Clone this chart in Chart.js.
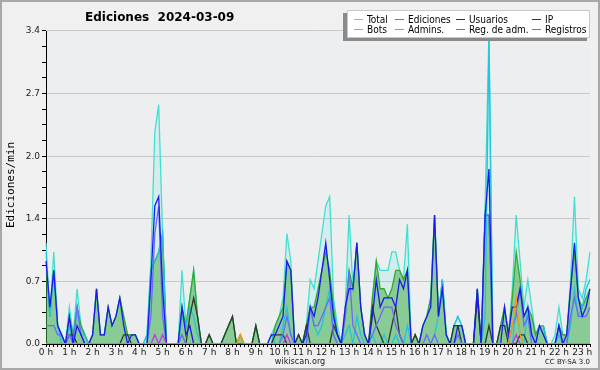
<!DOCTYPE html>
<html>
<head>
<meta charset="utf-8">
<script src="https://cdn.jsdelivr.net/npm/chart.js@4/dist/chart.umd.min.js"></script>
<style>
  html, body { margin: 0; padding: 0; background: #f0f0f0; }
  #wrap { width: 600px; height: 370px; }
</style>
</head>
<body>
<div id="wrap"><canvas id="chart" width="600" height="370"></canvas></div>
<script>
'use strict';

// Hour labels on the x axis (one every 6 slots of 10 minutes)
const hourLabels = ['0 h', '1 h', '2 h', '3 h', '4 h', '5 h', '6 h', '7 h', '8 h', '9 h', '10 h', '11 h',
    '12 h', '13 h', '14 h', '15 h', '16 h', '17 h', '18 h', '19 h', '20 h', '21 h', '22 h', '23 h'];

// Major y tick labels
const yLabels = ['0.0', '0.7', '1.4', '2.0', '2.7', '3.4'];

// Edits per minute, 10 minute slots from 00:00 to 23:20
const total = [
    1.1, 0.3, 1.0, 0.2, 0.1, 0, 0.4, 0.1, 0.6, 0.2,
    0.1, 0, 0.1, 0.6, 0.1, 0.1, 0.4, 0.2, 0.3, 0.5,
    0.3, 0.1, 0.1, 0.1, 0, 0, 0.1, 0.9, 2.3, 2.6,
    1.2, 0, 0, 0, 0, 0.8, 0.2, 0.5, 0.8, 0.3,
    0, 0, 0.1, 0, 0, 0, 0.1, 0.2, 0.3, 0,
    0.1, 0, 0, 0, 0.2, 0, 0, 0, 0.1, 0.2,
    0.3, 0.5, 1.2, 0.9, 0, 0.1, 0, 0.2, 0.7, 0.6,
    0.9, 1.2, 1.5, 1.6, 0.5, 0.2, 0, 0.4, 1.4, 0.6,
    1.1, 0.4, 0.1, 0, 0.5, 0.9, 0.8, 0.8, 0.8, 1.0,
    1.0, 0.8, 0.7, 1.3, 0, 0.1, 0, 0.2, 0.3, 0.5,
    1.4, 0.3, 0.7, 0.1, 0, 0.2, 0.3, 0.2, 0, 0,
    0, 0.6, 0, 1.5, 3.4, 0, 0, 0.2, 0.4, 0.1,
    0.6, 1.4, 0.9, 0.4, 0.7, 0.4, 0.1, 0.2, 0.2, 0,
    0, 0.1, 0.4, 0.1, 0.1, 0.7, 1.6, 0.6, 0.5, 0.7,
    1.0
];
const ediciones = [
    0.9, 0.3, 0.8, 0.2, 0.1, 0, 0.3, 0.1, 0.4, 0.2,
    0.1, 0, 0.1, 0.6, 0.1, 0.1, 0.4, 0.2, 0.3, 0.5,
    0.3, 0.1, 0.1, 0.1, 0, 0, 0, 0.8, 0.9, 1.0,
    1.2, 0, 0, 0, 0, 0.4, 0.2, 0.5, 0.8, 0.3,
    0, 0, 0.1, 0, 0, 0, 0.1, 0.2, 0.3, 0,
    0.1, 0, 0, 0, 0.2, 0, 0, 0, 0, 0.2,
    0.3, 0.4, 0.9, 0.8, 0, 0.1, 0, 0.2, 0.4, 0.4,
    0.6, 0.8, 1.0, 0.8, 0.4, 0.1, 0, 0.3, 0.8, 0.6,
    1.1, 0.4, 0.1, 0, 0.5, 0.9, 0.6, 0.6, 0.5, 0.6,
    0.8, 0.8, 0.7, 0.8, 0, 0.1, 0, 0.2, 0.3, 0.5,
    1.4, 0.3, 0.7, 0.1, 0, 0.2, 0.2, 0.2, 0, 0,
    0, 0.6, 0, 1.4, 1.4, 0, 0, 0.2, 0.4, 0.1,
    0.5, 1.0, 0.7, 0.3, 0.4, 0.3, 0.1, 0.2, 0.2, 0,
    0, 0, 0.2, 0.1, 0.1, 0.6, 1.0, 0.5, 0.4, 0.5,
    0.6
];
const usuarios = [
    0.9, 0.4, 0.8, 0.2, 0.1, 0, 0.3, 0, 0.2, 0.1,
    0, 0, 0.1, 0.6, 0.1, 0.1, 0.4, 0.2, 0.3, 0.5,
    0.2, 0, 0.1, 0.1, 0, 0, 0, 0.7, 1.5, 1.6,
    0.6, 0, 0, 0, 0, 0.4, 0.1, 0.2, 0, 0,
    0, 0, 0, 0, 0, 0, 0, 0, 0, 0,
    0, 0, 0, 0, 0, 0, 0, 0, 0.1, 0.1,
    0.2, 0.3, 0.9, 0.8, 0, 0, 0, 0.1, 0.4, 0.3,
    0.5, 0.8, 1.1, 0.7, 0.3, 0.1, 0, 0.4, 0.6, 0.6,
    1.1, 0.4, 0.1, 0, 0.3, 0.7, 0.4, 0.5, 0.5, 0.5,
    0.4, 0.7, 0.6, 0.8, 0, 0, 0, 0.2, 0.3, 0.4,
    1.4, 0.3, 0.6, 0.1, 0, 0, 0.2, 0.2, 0, 0,
    0, 0.6, 0, 1.4, 1.9, 0, 0, 0, 0.4, 0.1,
    0.4, 0.4, 0.6, 0.3, 0.4, 0.1, 0, 0.2, 0.1, 0,
    0, 0, 0.2, 0, 0.1, 0.6, 1.1, 0.5, 0.3, 0.4,
    0.6
];
const ip = [
    0, 0, 0, 0, 0, 0, 0.1, 0.1, 0, 0,
    0, 0, 0, 0, 0, 0, 0, 0, 0, 0,
    0.1, 0.1, 0, 0, 0, 0, 0, 0, 0, 0,
    0, 0, 0, 0, 0, 0, 0, 0.3, 0.5, 0.3,
    0, 0, 0.1, 0, 0, 0, 0.1, 0.2, 0.3, 0,
    0, 0, 0, 0, 0.2, 0, 0, 0, 0, 0.1,
    0.1, 0.1, 0, 0, 0, 0.1, 0, 0.2, 0, 0,
    0, 0, 0, 0, 0.2, 0.1, 0, 0, 0, 0,
    0, 0, 0, 0, 0.4, 0.2, 0.1, 0, 0, 0.2,
    0.4, 0.1, 0, 0, 0, 0.1, 0, 0, 0, 0,
    0, 0, 0, 0, 0, 0.2, 0.2, 0, 0, 0,
    0, 0.5, 0, 0, 0.2, 0, 0, 0.2, 0.2, 0,
    0, 0, 0.1, 0.1, 0, 0, 0, 0, 0, 0,
    0, 0, 0, 0, 0, 0, 0, 0, 0, 0,
    0
];
const bots = [
    0, 0, 0, 0, 0, 0, 0, 0, 0, 0,
    0, 0, 0, 0, 0, 0, 0, 0, 0, 0,
    0, 0, 0, 0, 0, 0, 0, 0, 0, 0,
    0, 0, 0, 0, 0, 0, 0, 0, 0, 0,
    0, 0, 0, 0, 0, 0, 0, 0, 0, 0,
    0.1, 0, 0, 0, 0, 0, 0, 0, 0, 0,
    0, 0, 0, 0, 0, 0, 0, 0, 0, 0,
    0, 0, 0, 0, 0, 0, 0, 0, 0, 0,
    0, 0, 0, 0, 0, 0, 0, 0, 0, 0,
    0, 0, 0, 0, 0, 0, 0, 0, 0, 0,
    0, 0, 0, 0, 0, 0, 0, 0, 0, 0,
    0, 0, 0, 0, 0, 0, 0, 0, 0, 0,
    0.2, 0.5, 0.1, 0, 0, 0, 0, 0, 0, 0,
    0, 0, 0, 0, 0, 0, 0, 0, 0, 0,
    0
];
const admins = [
    1.0, 0.3, 0.8, 0.2, 0, 0, 0.2, 0, 0.4, 0.1,
    0.1, 0, 0, 0, 0, 0, 0, 0, 0, 0,
    0, 0, 0, 0, 0, 0, 0.1, 0.8, 0.9, 1.0,
    1.2, 0, 0, 0, 0, 0.3, 0.2, 0.4, 0.3, 0.1,
    0, 0, 0, 0, 0, 0, 0, 0, 0, 0,
    0, 0, 0, 0, 0, 0, 0, 0, 0.1, 0,
    0, 0.2, 0.4, 0.1, 0, 0, 0, 0, 0.4, 0.2,
    0.1, 0.2, 0.4, 0.6, 0.1, 0, 0, 0.1, 0.2, 0,
    0.3, 0.1, 0, 0, 0.1, 0, 0, 0.1, 0, 0,
    0.1, 0, 0, 0.2, 0, 0, 0, 0, 0, 0,
    0.1, 0.3, 0.7, 0.1, 0, 0.2, 0.3, 0.2, 0, 0,
    0, 0, 0, 0.3, 3.3, 0, 0, 0, 0, 0,
    0, 0.4, 0.1, 0, 0.4, 0.1, 0, 0.2, 0.2, 0,
    0, 0, 0.1, 0, 0, 0.2, 0.6, 0.3, 0.4, 0.6,
    0.7
];
const regAdm = [
    0, 0, 0, 0, 0, 0, 0, 0, 0, 0,
    0, 0, 0, 0, 0, 0, 0, 0, 0, 0,
    0, 0, 0, 0, 0, 0, 0, 0, 0.1, 0,
    0.1, 0, 0, 0, 0, 0, 0, 0, 0, 0,
    0, 0, 0, 0, 0, 0, 0, 0, 0, 0,
    0, 0, 0, 0, 0, 0, 0, 0, 0, 0,
    0, 0, 0.1, 0, 0, 0, 0, 0, 0, 0,
    0, 0, 0, 0, 0, 0, 0, 0, 0, 0,
    0, 0, 0, 0, 0, 0, 0, 0, 0, 0,
    0, 0, 0, 0, 0, 0, 0, 0, 0, 0,
    0, 0, 0, 0, 0, 0, 0, 0, 0, 0,
    0, 0, 0, 0, 0, 0, 0, 0, 0, 0,
    0, 0.1, 0, 0, 0, 0, 0, 0, 0, 0,
    0, 0, 0, 0, 0, 0, 0, 0, 0, 0,
    0
];
const registros = [
    0.2, 0.2, 0.2, 0.1, 0.1, 0, 0.1, 0, 0.4, 0.1,
    0, 0, 0, 0, 0, 0, 0, 0, 0, 0,
    0, 0, 0, 0, 0, 0, 0, 0.3, 1.2, 1.5,
    0.3, 0, 0, 0, 0, 0.1, 0, 0, 0, 0,
    0, 0, 0, 0, 0, 0, 0, 0, 0, 0,
    0, 0, 0, 0, 0, 0, 0, 0, 0, 0,
    0, 0.1, 0.3, 0.1, 0, 0, 0, 0, 0.4, 0.2,
    0.2, 0.3, 0.4, 0.5, 0.1, 0, 0, 0.3, 0.8, 0.2,
    0.1, 0, 0, 0, 0.1, 0.2, 0.3, 0.4, 0.4, 0.4,
    0.2, 0.1, 0, 0, 0, 0, 0, 0, 0.1, 0,
    0.1, 0, 0, 0, 0, 0, 0.1, 0, 0, 0,
    0, 0, 0, 1.4, 1.4, 0, 0, 0, 0, 0,
    0.2, 0.3, 0.6, 0.2, 0.3, 0, 0, 0, 0, 0,
    0, 0, 0.2, 0, 0, 0.3, 0.5, 0.3, 0.3, 0.3,
    0.4
];

// Slot names for the category axis
const slots = [];
for (let i = 0; i < total.length; i++) {
    const h = Math.floor(i / 6), m = (i % 6) * 10;
    slots.push(h + ':' + (m < 10 ? '0' + m : m));
}

// Series styles, also used by the legend
const series = [
    { label: 'Total', data: total, color: '#40e0d0', fill: 'rgba(64,224,208,0.13)', order: 8 },
    { label: 'Ediciones', data: ediciones, color: '#33a833', fill: 'rgba(60,170,60,0.5)', order: 7 },
    { label: 'Usuarios', data: usuarios, color: '#1a1aee', fill: false, order: 2 },
    { label: 'IP', data: ip, color: '#2e3a2e', fill: false, order: 4 },
    { label: 'Bots', data: bots, color: '#ff9a00', fill: false, order: 1 },
    { label: 'Admins.', data: admins, color: '#22c4e0', fill: false, order: 5 },
    { label: 'Reg. de adm.', data: regAdm, color: '#cc33ee', fill: false, order: 1 },
    { label: 'Registros', data: registros, color: '#6a6aff', fill: false, order: 3 }
];

// Background, titles, footer and legend
const decoPlugin = {
    id: 'deco',
    beforeDraw(chart) {
        const ctx = chart.ctx, a = chart.chartArea;
        ctx.save();
        ctx.fillStyle = '#f0f0f0';
        ctx.fillRect(0, 0, chart.width, chart.height);
        ctx.strokeStyle = '#a8a8a8';
        ctx.lineWidth = 2;
        ctx.strokeRect(1, 1, chart.width - 2, chart.height - 2);
        ctx.fillStyle = '#eceef0';
        ctx.fillRect(a.left, a.top, a.right - a.left, a.bottom - a.top);
        ctx.restore();
    },
    afterDraw(chart) {
        const ctx = chart.ctx;
        ctx.save();
        ctx.fillStyle = '#000';
        ctx.textBaseline = 'alphabetic';

        // Title
        ctx.font = 'bold 12px "DejaVu Sans"';
        ctx.textAlign = 'left';
        ctx.fillText('Ediciones  2024-03-09', 85, 21);

        // Y axis title
        ctx.save();
        ctx.translate(14, 185);
        ctx.rotate(-Math.PI / 2);
        ctx.font = '11px "DejaVu Sans Mono"';
        ctx.textAlign = 'center';
        ctx.fillText('Ediciones/min', 0, 0);
        ctx.restore();

        // Footer
        ctx.fillStyle = '#222';
        ctx.font = '9px "DejaVu Sans Condensed", "DejaVu Sans"';
        ctx.textAlign = 'center';
        ctx.fillText('wikiscan.org', 300, 364);
        ctx.font = '7px "DejaVu Sans"';
        ctx.textAlign = 'right';
        ctx.fillText('CC BY-SA 3.0', 590, 364);

        // Legend box with shadow
        ctx.fillStyle = '#8a8a8a';
        ctx.fillRect(343, 13, 244, 28);
        ctx.fillStyle = '#ffffff';
        ctx.fillRect(347, 10, 243, 28);
        ctx.strokeStyle = '#c8c8c8';
        ctx.lineWidth = 1;
        ctx.strokeRect(347.5, 10.5, 242, 27);

        const colX = [367, 408, 469, 545];
        const rowY = [19.5, 29.5];
        ctx.font = '10px "DejaVu Sans Condensed", "DejaVu Sans"';
        ctx.textAlign = 'left';
        ctx.textBaseline = 'middle';
        series.forEach((s, i) => {
            const x = colX[i % 4], y = rowY[Math.floor(i / 4)];
            ctx.strokeStyle = s.color;
            ctx.lineWidth = 1;
            ctx.beginPath();
            ctx.moveTo(x - 13, y);
            ctx.lineTo(x - 4, y);
            ctx.stroke();
            ctx.fillStyle = '#000';
            ctx.fillText(s.label, x, y + 0.5);
        });
        ctx.restore();
    }
};

Chart.defaults.font.family = '"DejaVu Sans"';
Chart.defaults.color = '#222';

const ctx = document.getElementById('chart').getContext('2d');
const chart = new Chart(ctx, {
    type: 'line',
    data: {
        labels: slots,
        datasets: series.map(s => ({
            label: s.label,
            data: s.data,
            borderColor: s.color,
            backgroundColor: s.fill || 'transparent',
            fill: s.fill ? 'origin' : false,
            borderWidth: 1.3,
            pointRadius: 0,
            tension: 0,
            order: s.order
        }))
    },
    options: {
        responsive: false,
        animation: false,
        layout: { padding: { left: 0, top: 31, right: 10, bottom: 0 } },
        plugins: {
            legend: { display: false },
            title: { display: false },
            tooltip: { enabled: false }
        },
        scales: {
            x: {
                type: 'category',
                afterFit: (scale) => { scale.height = 26; },
                grid: {
                    display: true,
                    drawOnChartArea: false,
                    tickLength: 3,
                    tickColor: '#000'
                },
                border: { display: true, color: '#000', width: 1 },
                ticks: {
                    autoSkip: false,
                    maxRotation: 0,
                    minRotation: 0,
                    padding: 0,
                    font: { size: 9 },
                    color: '#222',
                    callback: (val, idx) => (idx % 6 === 0 ? hourLabels[idx / 6] : '')
                }
            },
            y: {
                min: 0,
                max: 3.4,
                afterFit: (scale) => { scale.width = 46; },
                afterBuildTicks: (scale) => {
                    const ticks = [];
                    for (let k = 0; k <= 20; k++) {
                        ticks.push({ value: k * 0.17 });
                    }
                    scale.ticks = ticks;
                },
                grid: {
                    color: (c) => (c.index % 4 === 0 && c.index > 0 ? '#c8c8c8' : 'rgba(0,0,0,0)'),
                    tickColor: '#000',
                    tickLength: 4,
                    lineWidth: 1
                },
                border: { display: true, color: '#000', width: 1 },
                ticks: {
                    padding: 2,
                    font: { size: 9 },
                    color: '#222',
                    callback: (val, idx) => (idx % 4 === 0 ? yLabels[idx / 4] : '')
                }
            }
        }
    },
    plugins: [decoPlugin]
});
</script>
</body>
</html>
